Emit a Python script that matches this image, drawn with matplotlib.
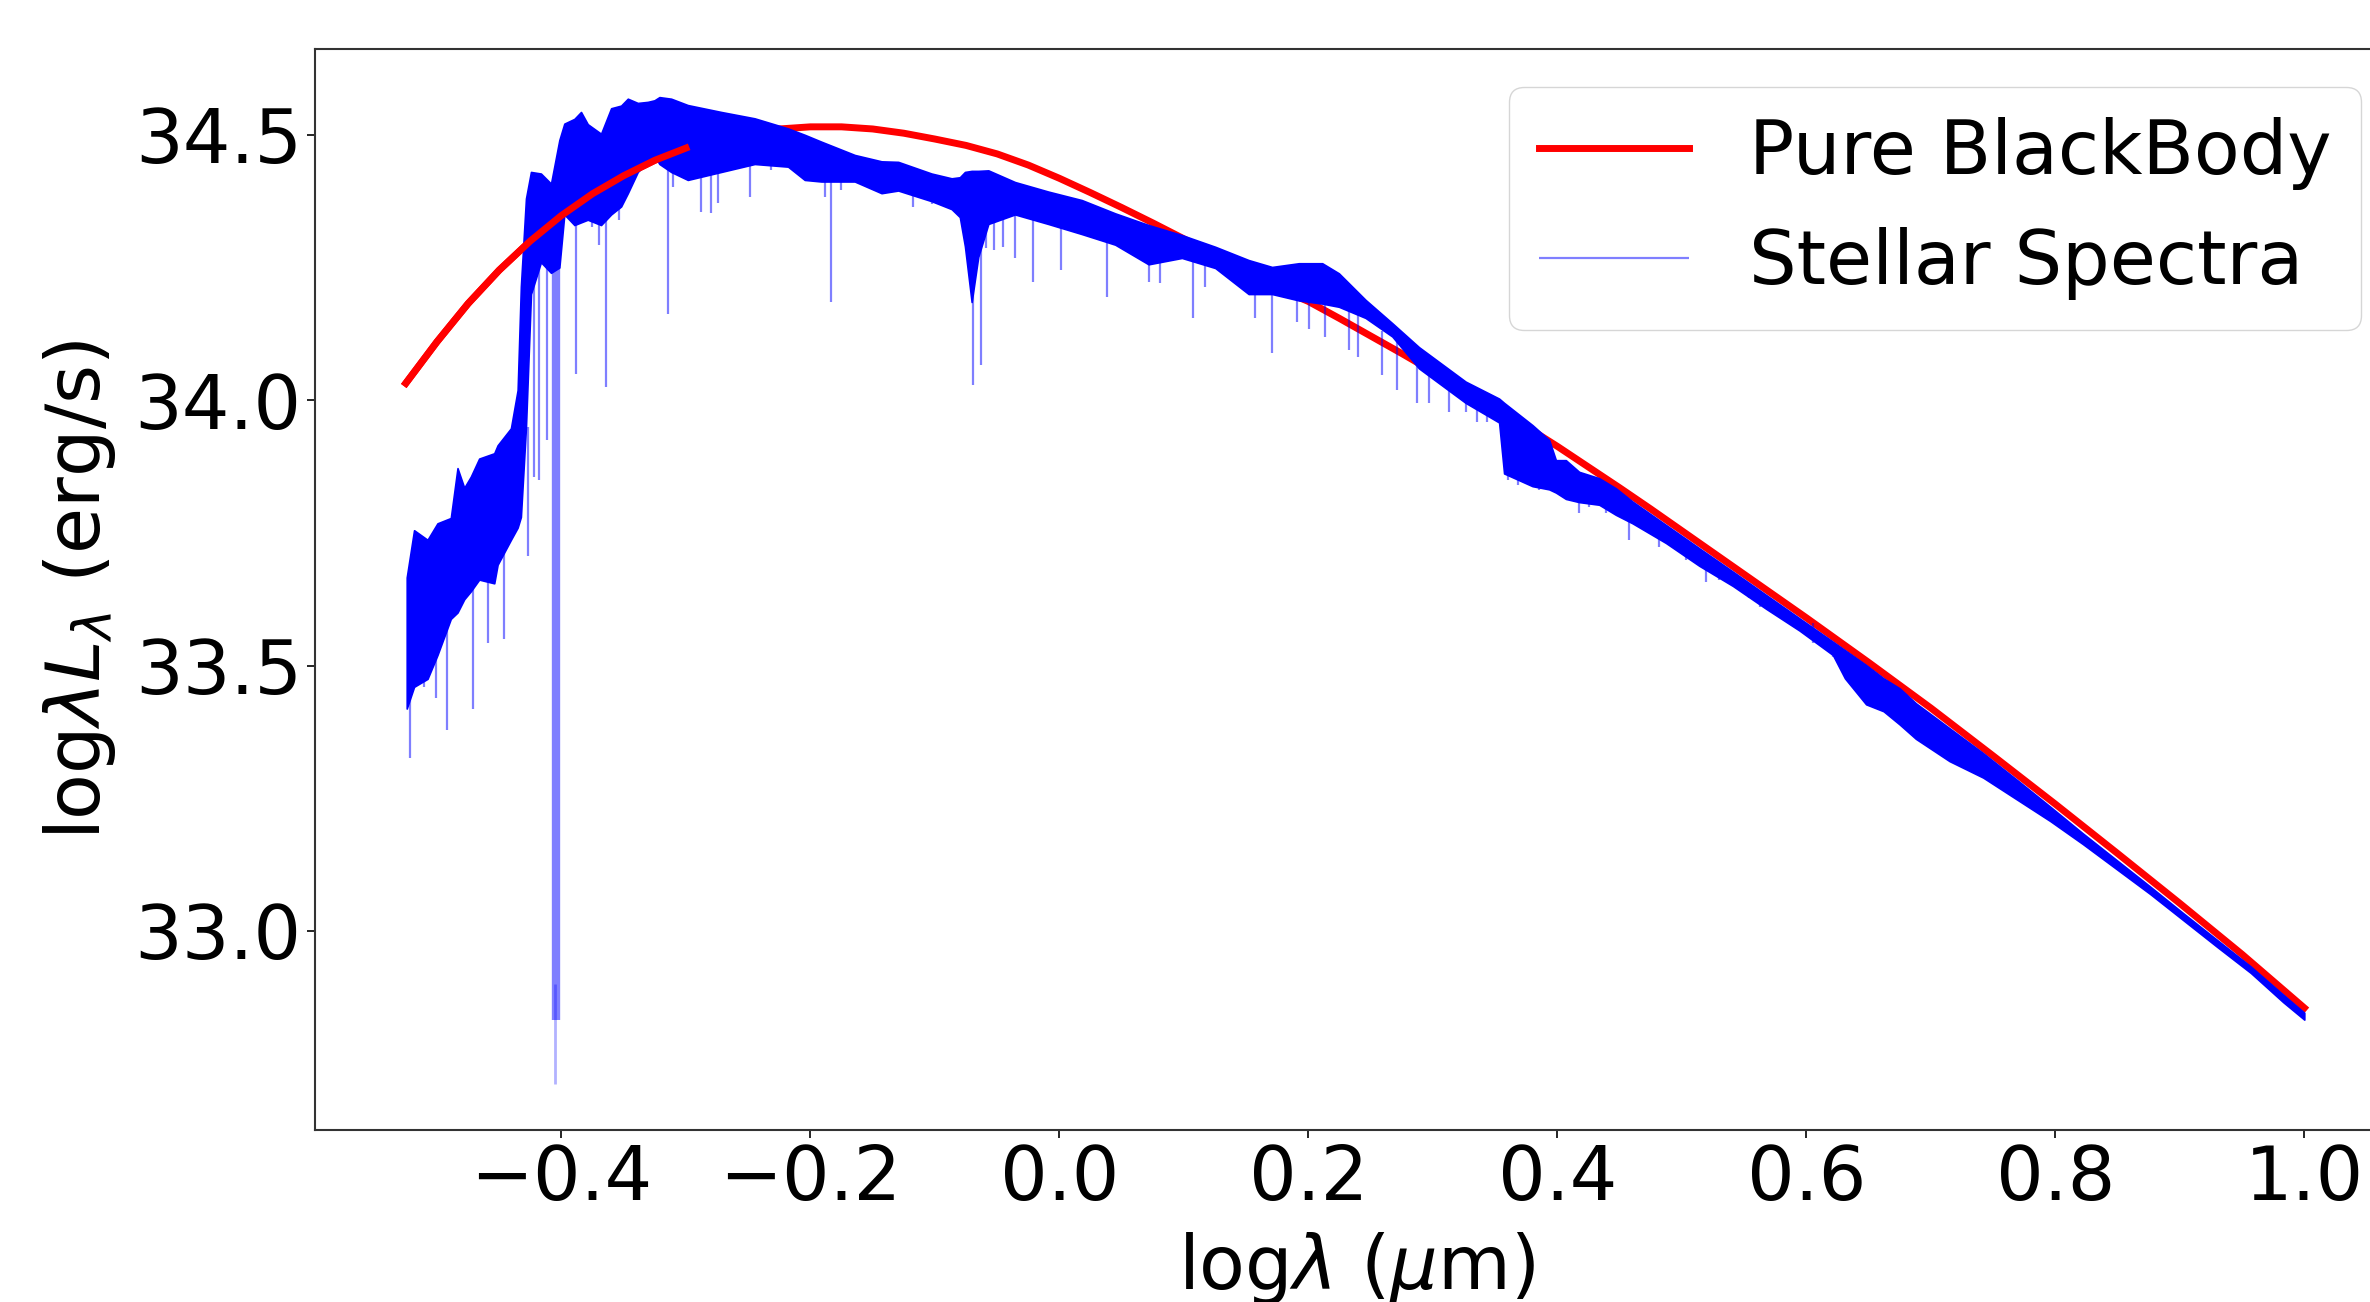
import numpy as np
import matplotlib.pyplot as plt

# blackbody curve (log wavelength in um, log lambda*L_lambda in erg/s)
bb_logwl = [-0.525, -0.500, -0.475, -0.450, -0.425, -0.400, -0.375, -0.350, -0.325, -0.300,
            -0.275, -0.250, -0.225, -0.200, -0.175, -0.150, -0.125, -0.100, -0.075, -0.050,
            -0.025, 0.000, 0.025, 0.050, 0.075, 0.100, 0.125, 0.150, 0.175, 0.200,
            0.225, 0.250, 0.275, 0.300, 0.325, 0.350, 0.375, 0.400, 0.425, 0.450,
            0.475, 0.500, 0.525, 0.550, 0.575, 0.600, 0.650, 0.700, 0.750, 0.800,
            0.850, 0.900, 0.950, 1.000]
bb_loglum = [34.032, 34.110, 34.182, 34.245, 34.300, 34.348, 34.389, 34.423, 34.452, 34.475,
             34.492, 34.504, 34.511, 34.515, 34.515, 34.511, 34.503, 34.492, 34.480, 34.464,
             34.443, 34.418, 34.391, 34.363, 34.334, 34.304, 34.274, 34.243, 34.211, 34.186,
             34.154, 34.121, 34.088, 34.054, 34.020, 33.985, 33.950, 33.913, 33.874, 33.835,
             33.795, 33.754, 33.713, 33.672, 33.631, 33.590, 33.506, 33.420, 33.330, 33.239,
             33.146, 33.052, 32.956, 32.855]

# stellar spectrum: upper and lower edge of the dense band
spec_logwl = [-0.5243, -0.5184, -0.5076, -0.4996, -0.4889, -0.4835, -0.4781, -0.4728, -0.4661, -0.4540,
              -0.4513, -0.4406, -0.4352, -0.4326, -0.4285, -0.4245, -0.4165, -0.4084, -0.4017, -0.3977,
              -0.3896, -0.3843, -0.3789, -0.3682, -0.3601, -0.3521, -0.3467, -0.3387, -0.3307, -0.3253,
              -0.3213, -0.3119, -0.2985, -0.2717, -0.2448, -0.2180, -0.2046, -0.1912, -0.1644, -0.1429,
              -0.1295, -0.1027, -0.0866, -0.0800, -0.0759, -0.0705, -0.0652, -0.0571, -0.0357, -0.0089,
              0.0180, 0.0448, 0.0716, 0.0984, 0.1252, 0.1520, 0.1708, 0.1923, 0.2111, 0.2245,
              0.2459, 0.2674, 0.2888, 0.3263, 0.3532, 0.3572, 0.3800, 0.3934, 0.3988, 0.4068,
              0.4175, 0.4336, 0.4470, 0.4604, 0.4872, 0.5140, 0.5410, 0.5677, 0.5945, 0.6213,
              0.6310, 0.6480, 0.6620, 0.6750, 0.6880, 0.7150, 0.7420, 0.7690, 0.7960, 0.8220,
              0.8490, 0.8760, 0.9030, 0.9300, 0.9570, 0.9830, 1.0000]
spec_hi = [33.666, 33.755, 33.737, 33.768, 33.778, 33.872, 33.835, 33.856, 33.890, 33.900,
           33.915, 33.947, 34.019, 34.214, 34.380, 34.430, 34.427, 34.408, 34.490, 34.521,
           34.530, 34.543, 34.520, 34.502, 34.550, 34.555, 34.568, 34.560, 34.562, 34.565,
           34.571, 34.568, 34.556, 34.543, 34.531, 34.512, 34.500, 34.487, 34.462, 34.450,
           34.449, 34.427, 34.418, 34.420, 34.430, 34.432, 34.432, 34.433, 34.411, 34.393,
           34.377, 34.352, 34.330, 34.311, 34.289, 34.264, 34.251, 34.258, 34.258, 34.239,
           34.189, 34.145, 34.100, 34.035, 34.003, 33.995, 33.953, 33.925, 33.887, 33.887,
           33.865, 33.853, 33.834, 33.809, 33.765, 33.721, 33.677, 33.633, 33.589, 33.545,
           33.529, 33.501, 33.476, 33.457, 33.429, 33.382, 33.335, 33.285, 33.234, 33.184,
           33.134, 33.084, 33.033, 32.983, 32.933, 32.880, 32.846]
spec_lo = [33.419, 33.460, 33.475, 33.520, 33.588, 33.600, 33.625, 33.640, 33.662, 33.655,
           33.690, 33.737, 33.760, 33.780, 33.950, 34.200, 34.260, 34.240, 34.250, 34.350,
           34.330, 34.335, 34.340, 34.330, 34.350, 34.365, 34.390, 34.430, 34.450, 34.460,
           34.445, 34.430, 34.415, 34.430, 34.445, 34.440, 34.415, 34.412, 34.412, 34.390,
           34.395, 34.375, 34.360, 34.345, 34.290, 34.185, 34.270, 34.332, 34.350, 34.332,
           34.313, 34.293, 34.256, 34.268, 34.249, 34.200, 34.200, 34.188, 34.182, 34.176,
           34.155, 34.120, 34.060, 33.995, 33.958, 33.862, 33.838, 33.832, 33.826, 33.814,
           33.808, 33.803, 33.784, 33.768, 33.731, 33.688, 33.650, 33.607, 33.566, 33.520,
           33.476, 33.427, 33.414, 33.389, 33.362, 33.320, 33.289, 33.248, 33.207, 33.164,
           33.117, 33.070, 33.020, 32.970, 32.921, 32.866, 32.833]

# absorption lines poking out below the band
line_logwl = [-0.5219, -0.5103, -0.5010, -0.4916, -0.4714, -0.4594, -0.4465, -0.4272, -0.4218, -0.4178,
              -0.4116, -0.3883, -0.3757, -0.3695, -0.3642, -0.3534, -0.3146, -0.3106, -0.2878, -0.2797,
              -0.2744, -0.2489, -0.2314, -0.1885, -0.1832, -0.1751, -0.1175, -0.1027, -0.0692, -0.0630,
              -0.0593, -0.0523, -0.0451, -0.0357, -0.0209, 0.0011, 0.0381, 0.0716, 0.0810, 0.1070,
              0.1170, 0.1574, 0.1708, 0.1909, 0.2003, 0.2137, 0.2325, 0.2400, 0.2593, 0.2714,
              0.2875, 0.2969, 0.3130, 0.3264, 0.3357, 0.3438, 0.3600, 0.3680, 0.3854, 0.4175,
              0.4256, 0.4390, 0.4578, 0.4819, 0.5034, 0.5195, 0.5302, 0.5543, 0.5624, 0.5811,
              0.6053, 0.6213]
line_bottom = [33.326, 33.460, 33.438, 33.378, 33.419, 33.543, 33.550, 33.707, 33.856, 33.850,
               33.925, 34.050, 34.327, 34.292, 34.025, 34.339, 34.163, 34.402, 34.355, 34.352,
               34.371, 34.383, 34.433, 34.383, 34.185, 34.396, 34.364, 34.370, 34.028, 34.066,
               34.286, 34.283, 34.289, 34.267, 34.223, 34.245, 34.195, 34.223, 34.220, 34.154,
               34.214, 34.154, 34.088, 34.148, 34.135, 34.119, 34.094, 34.082, 34.047, 34.019,
               33.994, 33.994, 33.978, 33.978, 33.959, 33.959, 33.850, 33.840, 33.831, 33.787,
               33.799, 33.787, 33.737, 33.724, 33.699, 33.658, 33.661, 33.627, 33.611, 33.592,
               33.542, 33.517]
line_top = [33.55, 33.60, 33.62, 33.65, 33.70, 33.74, 33.80, 33.95, 34.30, 34.30,
            34.30, 34.38, 34.40, 34.40, 34.40, 34.42, 34.48, 34.48, 34.46, 34.46,
            34.46, 34.48, 34.48, 34.45, 34.45, 34.45, 34.42, 34.41, 34.30, 34.30,
            34.38, 34.38, 34.38, 34.38, 34.36, 34.36, 34.33, 34.30, 34.30, 34.29,
            34.28, 34.23, 34.23, 34.22, 34.22, 34.22, 34.20, 34.18, 34.13, 34.12,
            34.09, 34.06, 34.04, 34.02, 34.00, 33.99, 33.95, 33.93, 33.90, 33.84,
            33.84, 33.83, 33.80, 33.76, 33.72, 33.70, 33.69, 33.65, 33.64, 33.61,
            33.58, 33.54]

# the very deep line near log(lambda) = -0.405
deep_logwl = [-0.4046, -0.4052]
deep_bottom = [32.832, 32.712]
deep_top = [34.25, 32.90]

FS = 54

fig = plt.figure(figsize=(23.7, 13.02), dpi=100)
ax = fig.add_axes([0.1329, 0.1321, 0.8793, 0.8300])

ax.plot(bb_logwl, bb_loglum, color='red', lw=5, label='Pure BlackBody', zorder=2)
# the spectrum is sparse on the blue side, so the blackbody shows through there
ax.plot(bb_logwl[:10], bb_loglum[:10], color='red', lw=5, zorder=4)
ax.fill_between(spec_logwl, spec_lo, spec_hi, facecolor='blue', edgecolor='blue', lw=1.2, zorder=3)
ax.vlines(line_logwl, line_bottom, line_top, color='blue', alpha=0.5, lw=1.6,
          label='Stellar Spectra', zorder=3)
ax.vlines(deep_logwl[:1], deep_bottom[:1], deep_top[:1], color='blue', alpha=0.5, lw=6, zorder=3)
ax.vlines(deep_logwl[1:], deep_bottom[1:], deep_top[1:], color='blue', alpha=0.3, lw=2, zorder=3)

ax.set_xlim(-0.598, 1.076)
ax.set_ylim(32.625, 34.661)
ax.set_xticks([-0.4, -0.2, 0.0, 0.2, 0.4, 0.6, 0.8, 1.0])
ax.set_yticks([33.0, 33.5, 34.0, 34.5])
ax.tick_params(labelsize=FS, length=6, width=1.2)
for s in ax.spines.values():
    s.set_linewidth(1.5)
    s.set_color('#333333')

ax.set_xlabel(r'log$\lambda$ ($\mu$m)', fontsize=FS, labelpad=10)
ax.set_ylabel(r'log$\lambda L_\lambda$ (erg/s)', fontsize=FS, labelpad=12)
ax.legend(loc='upper right', fontsize=FS)

fig.savefig('out.png', dpi=100)
